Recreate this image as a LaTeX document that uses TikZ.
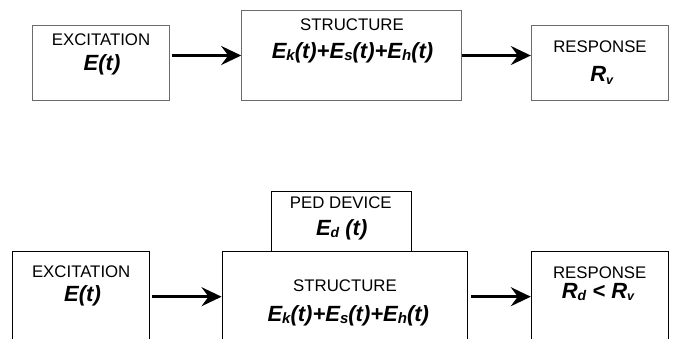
\documentclass[tikz,border=0pt]{standalone}
\usepackage{fontspec}
\setmainfont{Liberation Sans}
\usetikzlibrary{arrows.meta}
\newcommand{\lblfont}{\fontsize{16.8}{19}\selectfont}
\newcommand{\bigbi}{\fontsize{22}{24}\selectfont\bfseries\itshape}
\newcommand{\sbs}[2]{\raisebox{-2.5pt}{\fontsize{#1}{#1}\selectfont #2}}
\tikzset{
  boxg/.style={draw=black!58, line width=1pt, inner sep=0pt},
  boxk/.style={draw=black, line width=1pt, inner sep=0pt},
  txt/.style={anchor=base, inner sep=0pt, font=\lblfont},
  btxt/.style={anchor=base, inner sep=0pt, font=\bigbi},
  arr/.style={line width=2.6pt, -{Stealth[length=20pt,width=19pt,inset=7pt]}}
}
\begin{document}
\begin{tikzpicture}[x=1pt,y=-1pt]
\useasboundingbox (0,0) rectangle (676,338);
\clip (0,0) rectangle (676,338);
% top row
\node[boxg, minimum width=136.7pt, minimum height=75pt] (exc1) at (100.7,63.2) {};
\node[boxg, minimum width=219.6pt, minimum height=90.4pt] (str1) at (351.5,55.5) {};
\node[boxg, minimum width=137.4pt, minimum height=75pt] (res1) at (600,63.2) {};
\node[txt] (exc1a) at (101,45.7) {EXCITATION};
\node[btxt] (exc1b) at (102,70.7) {E(t)};
\node[txt] (str1a) at (352,30) {STRUCTURE};
\node[btxt] (str1b) at (352.5,58.3) {E\sbs{15}{k}(t)+E\sbs{15}{s}(t)+E\sbs{15}{h}(t)};
\node[txt] (res1a) at (600,52.3) {RESPONSE};
\node[btxt] (res1b) at (601.7,81.7) {R\sbs{12.5}{v}};
\draw[arr] ([xshift=2pt]exc1.east |- str1.west) -- (str1.west);
\draw[arr] (str1.east) -- (res1.west |- str1.east);
% bottom row
\node[boxk, minimum width=136.6pt, minimum height=91.4pt] (exc2) at (81,296.7) {};
\node[boxk, minimum width=245.3pt, minimum height=91.4pt] (str2) at (344.7,296.7) {};
\node[boxk, minimum width=139.4pt, minimum height=59.3pt] (ped) at (341.4,221.35) {};
\node[boxk, minimum width=137.4pt, minimum height=91.4pt] (res2) at (600,296.7) {};
\node[txt] (exc2a) at (81.2,277.3) {EXCITATION};
\node[btxt] (exc2b) at (82.5,301.7) {E(t)};
\node[txt] (peda) at (340.8,208.3) {PED DEVICE};
\node[btxt] (pedb) at (341.7,235) {E\sbs{14}{d} (t)};
\node[txt] (str2a) at (345,291.7) {STRUCTURE};
\node[btxt] (str2b) at (348.3,321) {E\sbs{15}{k}(t)+E\sbs{15}{s}(t)+E\sbs{15}{h}(t)};
\node[txt] (res2a) at (599.7,278.3) {RESPONSE};
\node[btxt] (res2b) at (598,298.3) {R\sbs{14}{d} < R\sbs{12.5}{v}};
\draw[arr] ([xshift=2.5pt]exc2.east) -- (str2.west);
\draw[arr] ([xshift=3pt]str2.east) -- (res2.west);
\end{tikzpicture}
\end{document}
